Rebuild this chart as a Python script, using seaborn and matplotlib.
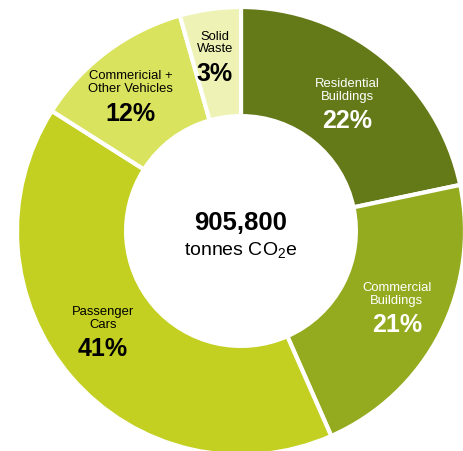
import numpy as np
import seaborn as sns
import matplotlib.pyplot as plt

# shares (the printed labels are the chart's own rounded values)
sectors = ["Residential\nBuildings", "Commercial\nBuildings", "Passenger\nCars",
           "Commericial +\nOther Vehicles", "Solid\nWaste"]
shares = [21.7, 21.7, 40.6, 11.6, 4.4]
pct_labels = ["22%", "21%", "41%", "12%", "3%"]
colors = ["#647a18", "#94ab1f", "#c3d022", "#dae35e", "#eef3b5"]
text_colors = ["white", "white", "black", "black", "black"]
total = "905,800"

# label placement tweaks (degrees / radius)
nudge = [-1.0, 0.6, -4.2, 2.7, 0.6]
lab_r = [0.735, 0.778, 0.766, 0.774, 0.783]

sns.set_theme(style="white")
plt.rcParams['font.family'] = ['Liberation Sans', 'DejaVu Sans']
plt.rcParams['mathtext.fontset'] = 'custom'
plt.rcParams['mathtext.rm'] = 'Liberation Sans'

fig = plt.figure(figsize=(4.64, 4.52), dpi=100)
ax = fig.add_axes([0, 0, 1, 1])

wedges, _ = ax.pie(shares, colors=colors, startangle=90, counterclock=False,
                   radius=1.0, wedgeprops=dict(width=0.487, edgecolor="white", linewidth=3))

for w, name, pct, tc, dn, r in zip(wedges, sectors, pct_labels, text_colors, nudge, lab_r):
    ang = np.deg2rad((w.theta1 + w.theta2) / 2 + dn)
    x, y = r * np.cos(ang), r * np.sin(ang)
    ax.annotate(name, (x, y), xytext=(0, 2.5), textcoords="offset points",
                ha="center", va="bottom", fontsize=9.4, color=tc, linespacing=1.05)
    ax.annotate(pct, (x, y), xytext=(0, -2.5), textcoords="offset points",
                ha="center", va="top", fontsize=18, fontweight="bold", color=tc)

ax.text(0, 0.04, total, ha="center", va="center", fontsize=18.5, fontweight="bold", color="black")
ax.text(0, -0.085, r"tonnes CO$_\mathrm{2}$e", ha="center", va="center", fontsize=14, color="black")

ax.set_xlim(-241 / 224, 223 / 224)
ax.set_ylim(-220 / 224, 232 / 224)
ax.set_aspect("auto")
ax.axis("off")

fig.savefig("out.png", dpi=100, facecolor="white")
